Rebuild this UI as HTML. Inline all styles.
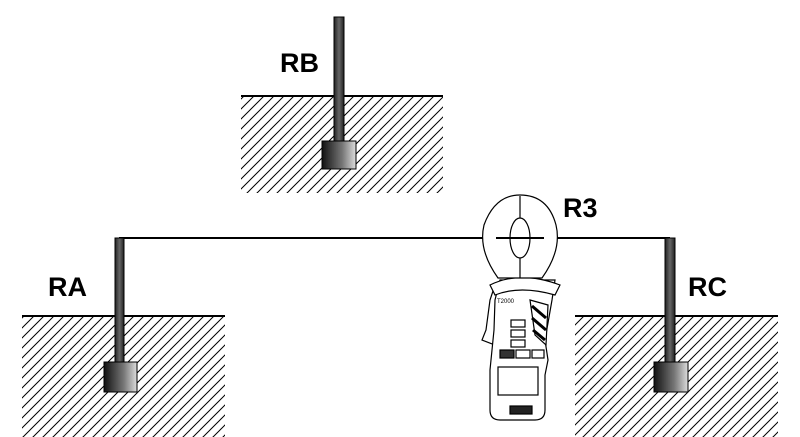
<!DOCTYPE html>
<html><head><style>body{margin:0;background:#fff}svg{display:block}</style></head><body>
<svg width="800" height="437" xmlns="http://www.w3.org/2000/svg" font-family="Liberation Sans, sans-serif">
<defs>
<pattern id="h" patternUnits="userSpaceOnUse" width="10" height="10">
<path d="M-2 12 L12 -2 M-2 2 L2 -2 M8 12 L12 8" stroke="#000" stroke-width="1"/>
</pattern>
<linearGradient id="rod" x1="0" x2="1"><stop offset="0" stop-color="#222"/><stop offset=".5" stop-color="#666"/><stop offset="1" stop-color="#222"/></linearGradient>
<linearGradient id="box" x1="0" x2="1"><stop offset="0" stop-color="#111"/><stop offset=".6" stop-color="#777"/><stop offset="1" stop-color="#ddd"/></linearGradient>
</defs>
<!-- grounds -->
<rect x="241" y="97" width="202" height="96" fill="url(#h)"/><line x1="241" y1="96" x2="443" y2="96" stroke="#000" stroke-width="2"/>
<rect x="22" y="317" width="203" height="120" fill="url(#h)"/><line x1="22" y1="316" x2="225" y2="316" stroke="#000" stroke-width="2"/>
<rect x="575" y="317" width="203" height="120" fill="url(#h)"/><line x1="575" y1="316" x2="778" y2="316" stroke="#000" stroke-width="2"/>
<!-- wire -->
<line x1="119" y1="238" x2="670" y2="238" stroke="#000" stroke-width="2"/>
<!-- rods -->
<g stroke="#000" stroke-width="1">
<rect x="334" y="17" width="10" height="125" fill="url(#rod)"/>
<rect x="322" y="141" width="34" height="28" fill="url(#box)"/>
<rect x="115" y="238" width="9" height="125" fill="url(#rod)"/>
<rect x="104" y="362" width="33" height="30" fill="url(#box)"/>
<rect x="665" y="238" width="10" height="125" fill="url(#rod)"/>
<rect x="654" y="362" width="34" height="30" fill="url(#box)"/>
</g>
<g font-weight="bold" font-size="27" fill="#000">
<text x="280" y="72">RB</text>
<text x="48" y="296">RA</text>
<text x="688" y="296">RC</text>
<text x="563" y="217">R3</text>
</g>
<!-- clamp meter -->
<g stroke="#000" stroke-width="1.2" fill="#fff">
<path d="M495 285 L490 300 L486 330 L482 340 L495 345 L500 320 Z"/>
<path d="M500 280 L555 280 L552 300 L545 340 L548 360 L545 375 L545 410 Q545 420 535 420 L500 420 Q490 420 490 410 L490 370 L494 330 L495 300 Z"/>
<path d="M490 285 Q520 270 560 285 L555 295 Q520 285 495 295 Z"/>
<path d="M498 278 Q478 250 484 225 Q495 195 520 195 Q548 195 556 225 Q562 250 542 278 Z"/>
<line x1="520" y1="196" x2="520" y2="278"/>
<ellipse cx="520" cy="238" rx="10" ry="20"/>
<path d="M530 300 L548 305 L546 345 L535 335 Z" fill="#fff"/>
<rect x="511" y="320" width="14" height="7"/>
<rect x="511" y="330" width="14" height="7"/>
<rect x="511" y="340" width="14" height="7"/>
<rect x="500" y="350" width="14" height="8" fill="#333"/>
<rect x="516" y="350" width="14" height="8"/>
<rect x="532" y="350" width="12" height="8"/>
<rect x="498" y="367" width="40" height="28"/>
<rect x="510" y="406" width="22" height="8" fill="#222"/>
</g>
<g stroke="#000" stroke-width="3">
<line x1="532" y1="306" x2="546" y2="318"/><line x1="532" y1="318" x2="546" y2="330"/><line x1="533" y1="330" x2="545" y2="340"/>
</g>
<line x1="496" y1="238" x2="544" y2="238" stroke="#000" stroke-width="2"/>
<text x="497" y="303" font-size="6" fill="#000">T2000</text>
</svg>
</body></html>
